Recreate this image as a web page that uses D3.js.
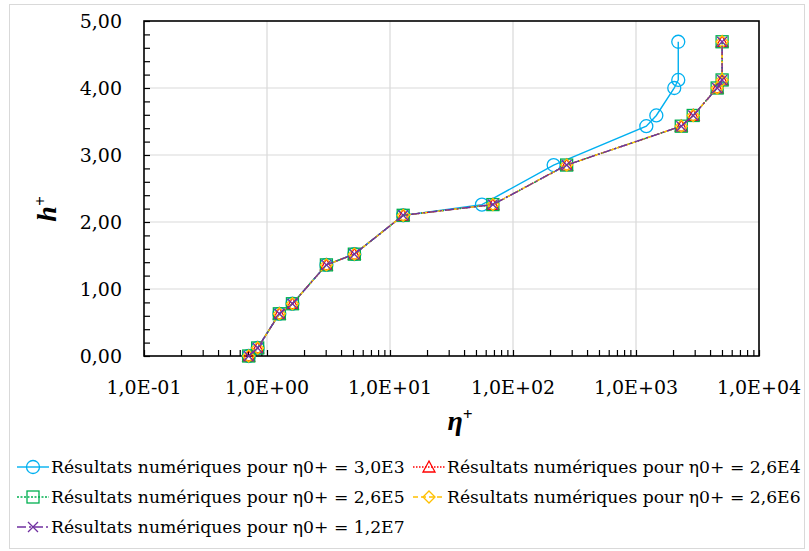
<!DOCTYPE html>
<html><head><meta charset="utf-8">
<script src="https://cdn.jsdelivr.net/npm/d3@7"></script>
<style>body{margin:0;background:#fff}svg{display:block}</style>
</head><body>
<svg id="c" width="809" height="551"></svg>
<script>
const hPlus = [0, 0.12, 0.63, 0.78, 1.36, 1.52, 2.10, 2.26, 2.85, 3.43, 3.59, 4.00, 4.12, 4.69];
const eta_3_0E3 = [0.71, 0.84, 1.26, 1.61, 3.04, 5.13, 12.8, 55.9, 214, 1213, 1463, 2047, 2206, 2206];
const eta_2_6E4 = [0.71, 0.84, 1.26, 1.61, 3.04, 5.13, 12.8, 68.6, 273, 2334, 2918, 4568, 5012, 5012];
const eta_2_6E5 = [0.71, 0.84, 1.26, 1.61, 3.04, 5.13, 12.8, 68.6, 273, 2334, 2918, 4568, 5012, 5012];
const eta_2_6E6 = [0.71, 0.84, 1.26, 1.61, 3.04, 5.13, 12.8, 68.6, 273, 2334, 2918, 4568, 5012, 5012];
const eta_1_2E7 = [0.71, 0.84, 1.26, 1.61, 3.04, 5.13, 12.8, 68.6, 273, 2334, 2918, 4568, 5012, 5012];
const seriesNames = ["Résultats numériques pour η0+ = 3,0E3","Résultats numériques pour η0+ = 2,6E4",
  "Résultats numériques pour η0+ = 2,6E5","Résultats numériques pour η0+ = 2,6E6","Résultats numériques pour η0+ = 1,2E7"];
const xTickValues = [0.1, 1, 10, 100, 1000, 10000];
const xTickLabels = ["1,0E-01","1,0E+00","1,0E+01","1,0E+02","1,0E+03","1,0E+04"];
const yTickValues = [0,1,2,3,4,5];
const yTickLabels = ["0,00","1,00","2,00","3,00","4,00","5,00"];

const styles = [
  {color:"#00B0F0", dash:null, marker:"circle"},
  {color:"#FF0000", dash:"1.5,1.5", marker:"triangle"},
  {color:"#00B050", dash:"2,1.5", marker:"square"},
  {color:"#FFC000", dash:"5,3", marker:"diamond"},
  {color:"#7030A0", dash:"9,3,2,3", marker:"x"}
];
const etas = [eta_3_0E3, eta_2_6E4, eta_2_6E5, eta_2_6E6, eta_1_2E7];

const svg = d3.select("#c");
const FONT = "'DejaVu Serif', 'Liberation Serif', serif";
const TFONT = "'Liberation Serif', serif";
svg.append("rect").attr("x",9.5).attr("y",4.5).attr("width",795).attr("height",544)
  .attr("fill","#fff").attr("stroke","#d9d9d9");

const L=144, R=759, T=21, B=356;
const x = d3.scaleLog().domain([0.1,10000]).range([L,R]);
const y = d3.scaleLinear().domain([0,5]).range([B,T]);

// gridlines
const g = svg.append("g");
g.selectAll("line.vg").data(xTickValues.slice(1,-1)).enter().append("line")
  .attr("x1",d=>x(d)).attr("x2",d=>x(d)).attr("y1",T).attr("y2",B).attr("stroke","#d9d9d9").attr("stroke-width",1.2);
g.selectAll("line.hg").data(yTickValues.slice(1,-1)).enter().append("line")
  .attr("y1",d=>y(d)).attr("y2",d=>y(d)).attr("x1",L).attr("x2",R).attr("stroke","#d9d9d9").attr("stroke-width",1.2);

// axes with inward ticks
const minorX = [];
for (let e=-1;e<4;e++) for (let k=2;k<=9;k++) minorX.push(k*Math.pow(10,e));
const xAxis = d3.axisBottom(x).tickValues(minorX.concat(xTickValues)).tickSize(-6).tickFormat("");
svg.append("g").attr("transform",`translate(0,${B})`).call(xAxis)
  .call(s=>{s.select(".domain").remove(); s.selectAll(".tick line").attr("stroke","#000").attr("stroke-width",1.2);});
const minorY = d3.range(0,26).map(i=>i*0.2);
const yAxis = d3.axisLeft(y).tickValues(minorY).tickSize(-6).tickFormat("");
svg.append("g").attr("transform",`translate(${L},0)`).call(yAxis)
  .call(s=>{s.select(".domain").remove(); s.selectAll(".tick line").attr("stroke","#000").attr("stroke-width",1.2);});

// tick labels
svg.selectAll("text.xl").data(xTickValues).enter().append("text")
  .attr("x",d=>x(d)).attr("y",394).attr("text-anchor","middle")
  .attr("font-family",FONT).attr("font-size",19).attr("fill","#000")
  .text((d,i)=>xTickLabels[i]);
svg.selectAll("text.yl").data(yTickValues).enter().append("text")
  .attr("x",122).attr("y",d=>y(d)+7).attr("text-anchor","end")
  .attr("font-family",FONT).attr("font-size",19).attr("fill","#000")
  .text((d,i)=>yTickLabels[i]);

// frame
svg.append("rect").attr("x",L).attr("y",T).attr("width",R-L).attr("height",B-T)
  .attr("fill","none").attr("stroke","#000").attr("stroke-width",1.6);

// axis titles
svg.append("text").attr("transform","translate(56,209) rotate(-90)").attr("text-anchor","middle")
  .attr("font-family",TFONT).attr("font-size",28).attr("font-weight","bold").attr("font-style","italic")
  .html('h<tspan font-size="17" dy="-10">+</tspan>');
svg.append("text").attr("x",460).attr("y",430).attr("text-anchor","middle")
  .attr("font-family",TFONT).attr("font-size",28).attr("font-weight","bold").attr("font-style","italic")
  .html('η<tspan font-size="17" dy="-10">+</tspan>');

function drawMarker(sel, type, color, cx, cy){
  const gg = sel.append("g").attr("transform",`translate(${cx},${cy})`)
    .attr("fill","none").attr("stroke",color).attr("stroke-width",1.3);
  if (type==="circle") gg.append("circle").attr("r",6.5);
  else if (type==="triangle") gg.append("path").attr("d","M0,-6L6,5L-6,5Z");
  else if (type==="square") gg.append("rect").attr("x",-6).attr("y",-6).attr("width",12).attr("height",12);
  else if (type==="diamond") gg.append("path").attr("d","M0,-6L6,0L0,6L-6,0Z");
  else if (type==="x") gg.append("path").attr("d","M-5,-5L5,5M-5,5L5,-5");
}

const line = d3.line().x(d=>x(d[0])).y(d=>y(d[1]));
const plot = svg.append("g");
etas.forEach((eta,si)=>{
  const st = styles[si];
  const pts = eta.map((e,i)=>[e,hPlus[i]]);
  plot.append("path").attr("d",line(pts)).attr("fill","none").attr("stroke",st.color)
    .attr("stroke-width",1.4).attr("stroke-dasharray",st.dash);
  pts.forEach(p=>drawMarker(plot, st.marker, st.color, x(p[0]), y(p[1])));
});

// legend
const legPos = [[17,467],[413,467],[17,497],[413,497],[17,527]];
seriesNames.forEach((name,i)=>{
  const st = styles[i]; const [lx,ly] = legPos[i];
  svg.append("line").attr("x1",lx).attr("x2",lx+32).attr("y1",ly).attr("y2",ly)
    .attr("stroke",st.color).attr("stroke-width",1.4).attr("stroke-dasharray",st.dash);
  drawMarker(svg, st.marker, st.color, lx+16, ly);
  svg.append("text").attr("x",lx+34).attr("y",ly+6).attr("font-family",FONT).attr("font-size",17.2)
    .attr("fill","#000").text(name);
});
</script>
</body></html>
